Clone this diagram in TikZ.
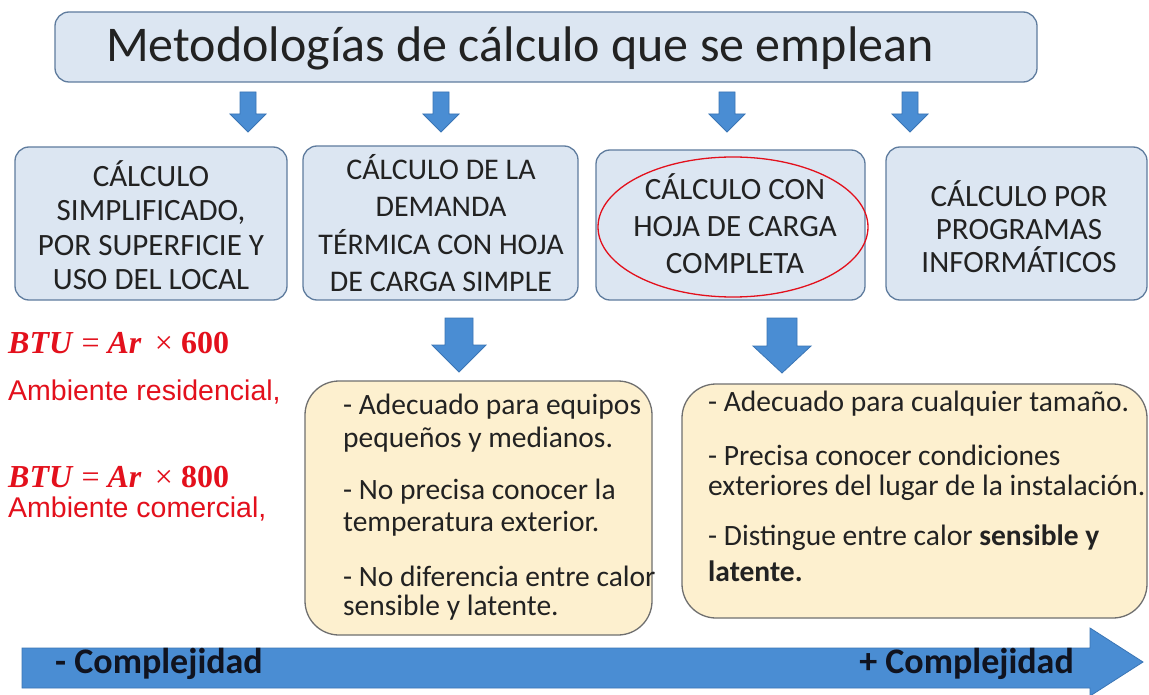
\documentclass[tikz,border=0pt]{standalone}
\usepackage{fontspec}
\setmainfont{Carlito}
\newfontfamily\arialf{Liberation Sans}
\newfontfamily\timesf{Liberation Serif}
\definecolor{boxblue}{HTML}{DCE6F2}
\definecolor{boxedge}{HTML}{5F7C9E}
\definecolor{arrblue}{HTML}{4A8DD3}
\definecolor{arredge}{HTML}{3A75B5}
\definecolor{yel}{HTML}{FDF0CF}
\definecolor{yeledge}{HTML}{6F6F6F}
\definecolor{redt}{HTML}{E3101C}
\definecolor{txt}{HTML}{222222}
\definecolor{cmpl}{HTML}{10131F}
\newcommand{\blockarrow}[6]{% x, ytop, yhead, ytip, halfshaft, halfhead
  \fill[arrblue,draw=arredge,line width=0.8pt]
   (#1-#5,#2) -- (#1+#5,#2) -- (#1+#5,#3) -- (#1+#6,#3) -- (#1,#4)
   -- (#1-#6,#3) -- (#1-#5,#3) -- cycle;}
\begin{document}
\begin{tikzpicture}[x=1pt,y=-1pt,
  bluebox/.style={draw=boxedge,fill=boxblue,line width=1.3pt,rounded corners=14pt},
  yelbox/.style={draw=yeledge,fill=yel,line width=1.3pt,rounded corners=34pt},
  boxtext/.style={align=center,text=txt,font=\fontsize{31}{34.5}\selectfont},
  listtext/.style={anchor=west,text=txt,font=\fontsize{29.5}{32}\selectfont,inner sep=0pt},
  redtext/.style={anchor=west,text=redt,inner sep=0pt},
  cmptext/.style={text=cmpl,font=\bfseries\fontsize{36}{40}\selectfont,inner sep=0pt},
]
\useasboundingbox (0,0) rectangle (1149,695);
\fill[white] (0,0) rectangle (1149,695);
% title
\draw[bluebox] (55,12) rectangle (1037,82);
\node[text=txt,font=\fontsize{50}{54}\selectfont] (title) at (520,48) {Metodologías de cálculo que se emplean};
% small arrows
\blockarrow{248}{92}{114}{132}{8}{18}
\blockarrow{441}{92}{114}{132}{8}{18}
\blockarrow{727}{92}{114}{132}{8}{18}
\blockarrow{910}{92}{114}{132}{8}{18}
% boxes
\draw[bluebox] (15,147) rectangle (287,300);
\node[boxtext] (b1) at (151,225) {CÁLCULO\\SIMPLIFICADO,\\POR SUPERFICIE Y\\USO DEL LOCAL};
\draw[bluebox] (303,146) rectangle (578,300);
\node[boxtext,font=\fontsize{30}{37.5}\selectfont] (b2) at (441,223) {CÁLCULO DE LA\\DEMANDA\\TÉRMICA CON HOJA\\DE CARGA SIMPLE};
\draw[bluebox] (596,150) rectangle (865,300);
\node[boxtext,font=\fontsize{31}{37}\selectfont] (b3) at (735,224) {CÁLCULO CON\\HOJA DE CARGA\\COMPLETA};
\draw[redt,line width=1.3pt] (733,227) ellipse [x radius=135, y radius=70];
\draw[bluebox] (886,147) rectangle (1147,300);
\node[boxtext,font=\fontsize{31}{33}\selectfont] (b4) at (1019,227) {CÁLCULO POR\\PROGRAMAS\\INFORMÁTICOS};
% big arrows
\blockarrow{459}{318}{345}{372}{14}{27}
\blockarrow{782}{318}{346}{373}{15}{29}
% yellow boxes
\draw[yelbox] (305,381) rectangle (652,635);
\node[listtext] (l1) at (343,407) {- Adecuado para equipos};
\node[listtext] (l2) at (343,440) {pequeños y medianos.};
\node[listtext] (l3) at (343,492) {- No precisa conocer la};
\node[listtext] (l4) at (343,524) {temperatura exterior.};
\node[listtext] (l5) at (343,576) {- No diferencia entre calor};
\node[listtext] (l6) at (343,608) {sensible y latente.};
\draw[yelbox] (682,384) rectangle (1147,618);
\node[listtext] (r1) at (708,404) {- Adecuado para cualquier tamaño.};
\node[listtext] (r2) at (708,455) {- Precisa conocer condiciones};
\node[listtext] (r3) at (708,488) {exteriores del lugar de la instalación.};
\node[listtext] (r4) at (708,538) {- Distingue entre calor \textbf{sensible y}};
\node[listtext] (r5) at (708,571) {\textbf{latente.}};
% red text
\node[redtext,font=\timesf\fontsize{32}{34}\selectfont] (f1) at (8,343) {\textbf{\textit{BTU}} = \textbf{\textit{Ar}}\, × \textbf{600}};
\node[redtext,font=\arialf\fontsize{28.5}{30}\selectfont] (a1) at (8,392) {Ambiente residencial,};
\node[redtext,font=\timesf\fontsize{32}{34}\selectfont] (f2) at (8,477) {\textbf{\textit{BTU}} = \textbf{\textit{Ar}}\, × \textbf{800}};
\node[redtext,font=\arialf\fontsize{28.5}{30}\selectfont] (a2) at (8,509) {Ambiente comercial,};
% bottom arrow
\fill[arrblue,draw=arredge,line width=0.8pt] (22,648) -- (1090,648) -- (1090,628) -- (1143,662) -- (1090,696) -- (1090,688) -- (22,688) -- cycle;
\node[cmptext,anchor=west] (cm) at (55,664) {- Complejidad};
\node[cmptext,anchor=east] (cp) at (1074,664) {+ Complejidad};
\end{tikzpicture}
\end{document}
